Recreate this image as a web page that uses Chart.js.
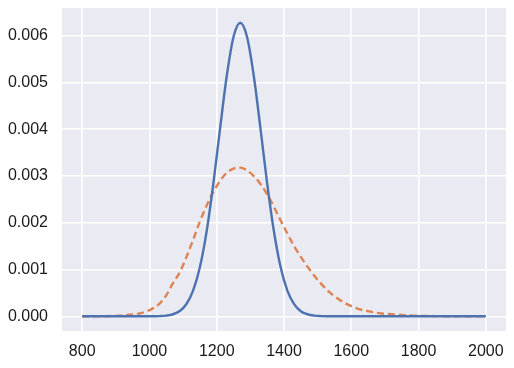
<!DOCTYPE html>
<html>
<head>
<meta charset="utf-8">
<script src="https://cdn.jsdelivr.net/npm/chart.js@4/dist/chart.umd.min.js"></script>
<style>
  html, body { margin: 0; padding: 0; background: #fff; }
  #wrap { width: 514px; height: 368px; }
</style>
</head>
<body>
<div id="wrap"><canvas id="chart"></canvas></div>
<script>
// values
const xValues = [800, 850, 900, 950, 970, 990, 1010, 1030, 1050, 1070, 1090, 1110, 1130, 1150,
  1170, 1190, 1210, 1230, 1250, 1270, 1290, 1310, 1330, 1350, 1370, 1390, 1410, 1430, 1450,
  1470, 1490, 1510, 1530, 1550, 1570, 1590, 1610, 1630, 1650, 1670, 1690, 1710, 1750, 1800,
  1850, 1900, 1950, 2000];

const narrowCurve = [0, 0, 0, 0, 0, 0, 0.0000014, 0.000005, 0.0000155, 0.000044, 0.000113,
  0.000263, 0.000553, 0.001053, 0.001817, 0.00284, 0.00402, 0.00515, 0.00598, 0.00628,
  0.00598, 0.00515, 0.00402, 0.00284, 0.00182, 0.00105, 0.00055, 0.00026, 0.00011, 0.000044,
  0.000016, 0.000005, 0.0000014, 0, 0, 0, 0, 0, 0, 0, 0, 0, 0, 0, 0, 0, 0, 0];

const wideCurve = [0, 0, 0.00001, 0.00004, 0.00006, 0.0001, 0.00017, 0.00027, 0.00045, 0.00071,
  0.00094, 0.00127, 0.00164, 0.00203, 0.00237, 0.00266, 0.0029, 0.00307, 0.00316, 0.00318,
  0.00312, 0.003, 0.00283, 0.00261, 0.00234, 0.00205, 0.00177, 0.0015, 0.00127, 0.00106,
  0.00087, 0.0007, 0.00055, 0.00043, 0.00033, 0.00025, 0.00019, 0.00014, 0.00011, 0.00008,
  0.00006, 0.00005, 0.00003, 0.00001, 0.000005, 0, 0, 0];

const xTicks = [800, 1000, 1200, 1400, 1600, 1800, 2000];
const yTicks = [0, 0.001, 0.002, 0.003, 0.004, 0.005, 0.006];

const toPoints = ys => xValues.map((x, i) => ({ x: x, y: ys[i] }));

// grey plot background like seaborn darkgrid
const plotBg = {
  id: "plotBg",
  beforeDraw(chart) {
    const a = chart.chartArea;
    const ctx = chart.ctx;
    ctx.save();
    ctx.fillStyle = "#EAEAF2";
    ctx.fillRect(a.left, a.top, a.right - a.left, a.bottom - a.top);
    ctx.restore();
  }
};

Chart.defaults.font.family = "'Liberation Sans', Arial, sans-serif";
Chart.defaults.font.size = 16;
Chart.defaults.color = "#1a1a1a";

new Chart(document.getElementById("chart").getContext("2d"), {
  type: "line",
  data: {
    datasets: [{
      data: toPoints(narrowCurve),
      borderColor: "#4C72B0",
      borderWidth: 2.4,
      pointRadius: 0,
      cubicInterpolationMode: "monotone",
      fill: false
    }, {
      data: toPoints(wideCurve),
      borderColor: "#DD8452",
      borderWidth: 2.4,
      borderDash: [7, 4],
      pointRadius: 0,
      cubicInterpolationMode: "monotone",
      fill: false
    }]
  },
  options: {
    responsive: true,
    maintainAspectRatio: false,
    animation: false,
    layout: { padding: { top: 8, right: 8, left: 0, bottom: 0 } },
    plugins: { legend: { display: false }, tooltip: { enabled: false } },
    scales: {
      x: {
        type: "linear",
        min: 740,
        max: 2060,
        border: { display: false },
        grid: { color: "#FFFFFF", lineWidth: 1.6, drawTicks: false },
        ticks: { padding: 11, maxRotation: 0, callback: v => String(v) },
        afterBuildTicks: s => { s.ticks = xTicks.map(v => ({ value: v })); },
        afterFit: s => { s.height = 37; s.paddingLeft = 0; s.paddingRight = 0; }
      },
      y: {
        type: "linear",
        min: -0.000314,
        max: 0.006594,
        border: { display: false },
        grid: { color: "#FFFFFF", lineWidth: 1.6, drawTicks: false },
        ticks: { padding: 14, callback: v => v.toFixed(3) },
        afterBuildTicks: s => { s.ticks = yTicks.map(v => ({ value: v })); },
        afterFit: s => { s.width = 62; s.paddingTop = 0; s.paddingBottom = 0; }
      }
    }
  },
  plugins: [plotBg]
});
</script>
</body>
</html>
